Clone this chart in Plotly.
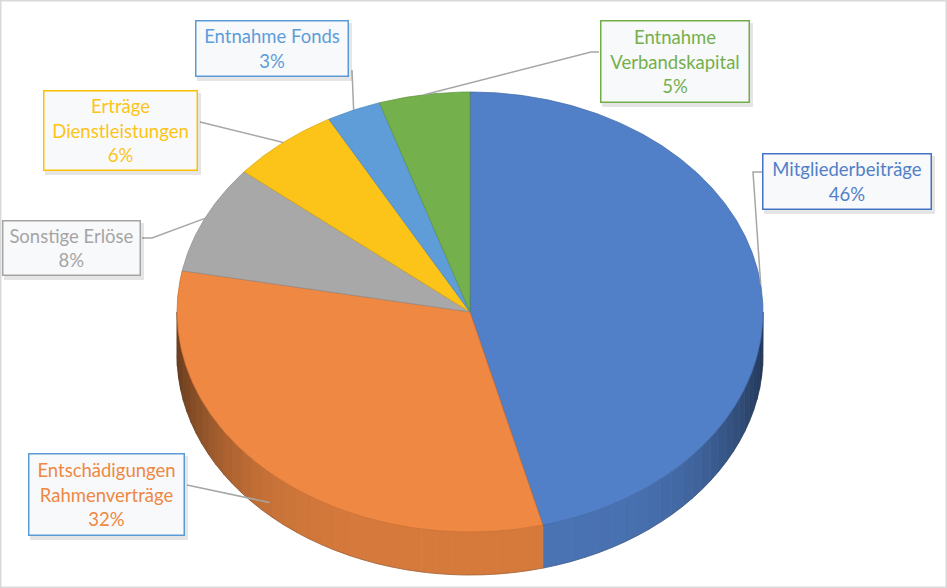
import numpy as np
import plotly.graph_objects as go

# data (clockwise from 12 o'clock)
categories = ["Mitgliederbeiträge", "Entschädigungen Rahmenverträge", "Sonstige Erlöse",
              "Erträge Dienstleistungen", "Entnahme Fonds", "Entnahme Verbandskapital"]
label_text = ["Mitgliederbeiträge", "Entschädigungen<br>Rahmenverträge", "Sonstige Erlöse",
              "Erträge<br>Dienstleistungen", "Entnahme Fonds", "Entnahme<br>Verbandskapital"]
shares = [46, 32, 8, 6, 3, 5]

colors = ["#5280C8", "#EE8843", "#A8A8A8", "#FCC419", "#5E9DD8", "#74B04C"]
edge_colors = ["#3E66A8", "#C96A2C", "#8C8C8C", "#D9A300", "#4A85BE", "#5C9238"]
box_borders = ["#4472C4", "#5B9BD5", "#A5A5A5", "#FFC000", "#5B9BD5", "#70AD47"]

W, H = 947, 588
CX, CY, RX, RY, DEPTH = 470, 312, 293, 220, 43

# label boxes: centre, size, and the points where the leader line leaves the box
boxes = [
    dict(c=(847, 181.5), size=(170, 57), lead=[(762, 172), (753, 172)]),
    dict(c=(106.5, 494.5), size=(157, 83), lead=[(187, 485)]),
    dict(c=(71.5, 248), size=(139, 56), lead=[(142, 238), (152, 238)]),
    dict(c=(120.5, 130.5), size=(155, 81), lead=[(200, 122)]),
    dict(c=(272, 48.5), size=(154, 57), lead=[(352, 70)]),
    dict(c=(675, 61.5), size=(150, 83), lead=[(599, 52), (591, 52)]),
]


def pt(theta, dy=0.0):
    t = np.radians(theta)
    return CX + RX * np.sin(t), CY - RY * np.cos(t) + dy


def shade(hex_color, f):
    h = hex_color.lstrip("#")
    r, g, b = (int(h[i:i + 2], 16) for i in (0, 2, 4))
    return "rgb(%d,%d,%d)" % (r * f, g * f, b * f)


total = sum(shares)
bounds = np.cumsum([0] + shares) / total * 360
pct = [f"{v / total * 100:.0f}%" for v in shares]

fig = go.Figure()

# side wall (front half of the disc only)
for i in range(len(shares)):
    a0, a1 = max(bounds[i], 90), min(bounds[i + 1], 270)
    if a0 >= a1:
        continue
    edges = np.linspace(a0, a1, int((a1 - a0) / 3) + 2)
    for t0, t1 in zip(edges[:-1], edges[1:]):
        ts = np.linspace(t0, t1, 6)
        xt, yt = pt(ts)
        xb, yb = pt(ts[::-1], DEPTH)
        mid = np.radians((t0 + t1) / 2)
        f = 0.9 - 0.45 * abs(np.sin(mid)) ** 5
        col = shade(colors[i], f)
        fig.add_trace(go.Scatter(
            x=np.r_[xt, xb, xt[:1]], y=np.r_[yt, yb, yt[:1]],
            mode="lines", fill="toself", fillcolor=col,
            line=dict(color=col, width=0.8), hoverinfo="skip"))

# wall outline at the bottom
xb, yb = pt(np.linspace(90, 270, 200), DEPTH)
fig.add_trace(go.Scatter(x=xb, y=yb, mode="lines",
                         line=dict(color="rgba(60,60,60,0.35)", width=0.8), hoverinfo="skip"))

# top faces
for i in range(len(shares)):
    ts = np.linspace(bounds[i], bounds[i + 1], max(int((bounds[i + 1] - bounds[i]) * 2), 4))
    xs, ys = pt(ts)
    fig.add_trace(go.Scatter(
        x=np.r_[CX, xs, CX], y=np.r_[CY, ys, CY],
        mode="lines", fill="toself", fillcolor=colors[i],
        line=dict(color=edge_colors[i], width=0.7),
        name=categories[i], text=f"{categories[i]}: {pct[i]}", hoverinfo="text"))

# leader lines and label boxes
shadows = []
for i, b in enumerate(boxes):
    mid = (bounds[i] + bounds[i + 1]) / 2
    ex, ey = pt(mid, DEPTH * 0.7 if 90 < mid < 270 else 0)
    lx = [p[0] for p in b["lead"]] + [ex]
    ly = [p[1] for p in b["lead"]] + [ey]
    fig.add_trace(go.Scatter(x=lx, y=ly, mode="lines",
                             line=dict(color="#A6A6A6", width=1.5), hoverinfo="skip"))
    (cx, cy), (bw, bh) = b["c"], b["size"]
    shadows.append(dict(type="rect", xref="x", yref="y", layer="above",
                        x0=cx - bw / 2 + 2, x1=cx + bw / 2 + 3,
                        y0=cy - bh / 2 + 3, y1=cy + bh / 2 + 4,
                        fillcolor="rgba(0,0,0,0.10)", line=dict(width=0)))
    fig.add_annotation(
        x=cx, y=cy, xref="x", yref="y",
        text=f"{label_text[i]}<br>{pct[i]}", showarrow=False,
        width=bw - 3, height=bh - 3,
        bgcolor="#F8F9FB", bordercolor=box_borders[i], borderwidth=1.5, borderpad=0,
        font=dict(family="Lato", size=18.5, color=colors[i] if i != 2 else "#A5A5A5"))

fig.update_layout(
    width=W, height=H,
    margin=dict(l=0, r=0, t=0, b=0),
    showlegend=False,
    plot_bgcolor="white", paper_bgcolor="white",
    xaxis=dict(range=[0, W], visible=False, fixedrange=True),
    yaxis=dict(range=[H, 0], visible=False, fixedrange=True),
    shapes=shadows + [dict(type="rect", xref="paper", yref="paper", x0=0, y0=0, x1=1, y1=1,
                           line=dict(color="#D9D9D9", width=3))],
)

fig.write_html("out.html", config={"displayModeBar": False},
               post_script="document.body.style.margin='0';")
